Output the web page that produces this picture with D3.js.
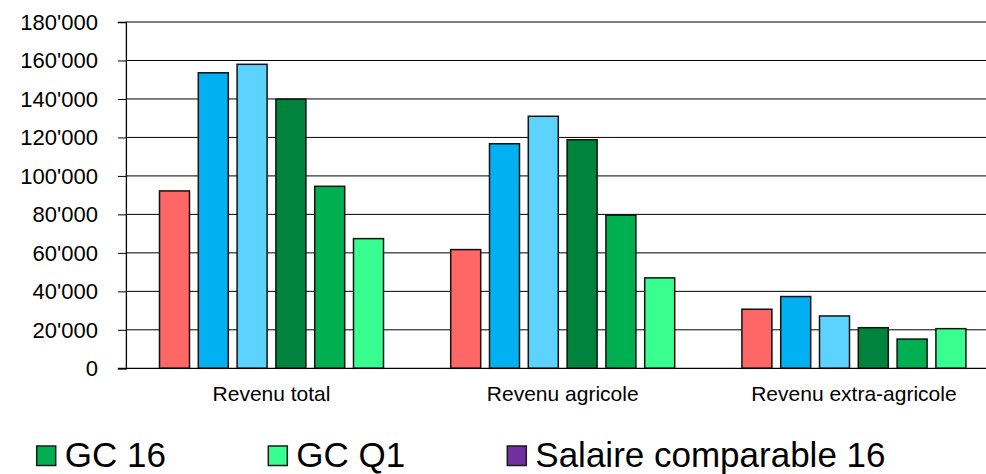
<!DOCTYPE html>
<html>
<head>
<meta charset="utf-8">
<script src="https://cdn.jsdelivr.net/npm/d3@7"></script>
<style>
  html, body { margin: 0; padding: 0; background: #fff; }
  svg { display: block; font-family: "Liberation Sans", Arial, sans-serif; }
</style>
</head>
<body>
<svg id="chart" width="986" height="474"></svg>
<script>
// Revenue groups on the category axis
const categories = ["Revenu total", "Revenu agricole", "Revenu extra-agricole"];

// One array per farm group (values in CHF)
const series1 = [92200, 61700, 30700];
const series2 = [153600, 116700, 37300];
const series3 = [158000, 131000, 27200];
const series4 = [139900, 118800, 21100];
const gc16    = [94600, 79600, 15200];
const gcQ1    = [67400, 47000, 20600];

const seriesValues = [series1, series2, series3, series4, gc16, gcQ1];
const seriesColors = ["#FF6666", "#00B0F0", "#5CD2FF", "#00843D", "#00B050", "#38FF90"];

// Y axis ticks
const yTicks = [0, 20000, 40000, 60000, 80000, 100000, 120000, 140000, 160000, 180000];

// Legend entries shown in the bottom row
const legendLabels = ["GC 16", "GC Q1", "Salaire comparable 16"];
const legendColors = ["#00B050", "#38FF90", "#7030A0"];

const svg = d3.select("#chart");

const plot = { left: 125.9, right: 999.5, top: 22, bottom: 368.3 };

const y = d3.scaleLinear().domain([0, 180000]).range([plot.bottom, plot.top]);
const x0 = d3.scaleBand().domain(categories).range([plot.left, plot.right]).padding(0);
const x1 = d3.scaleBand()
  .domain(d3.range(seriesValues.length))
  .range([33.6, x0.bandwidth() - 33.6])
  .paddingInner(0.2268)
  .paddingOuter(0);

const fmt = v => d3.format(",")(v).replace(/,/g, "'");

// Horizontal grid lines
svg.append("g")
  .selectAll("line")
  .data(yTicks.filter(t => t > 0))
  .join("line")
  .attr("x1", plot.left).attr("x2", plot.right)
  .attr("y1", d => y(d)).attr("y2", d => y(d))
  .attr("stroke", "#000").attr("stroke-width", 1);

// Bars
const groups = svg.append("g")
  .selectAll("g")
  .data(categories)
  .join("g")
  .attr("transform", c => `translate(${x0(c)},0)`);

groups.selectAll("rect")
  .data((c, ci) => seriesValues.map((vals, si) => ({ si, v: vals[ci] })))
  .join("rect")
  .attr("x", d => x1(d.si))
  .attr("width", x1.bandwidth())
  .attr("y", d => y(d.v))
  .attr("height", d => y(0) - y(d.v))
  .attr("fill", d => seriesColors[d.si])
  .attr("stroke", "#111")
  .attr("stroke-width", 1.5);

// Y axis
const yAxis = d3.axisLeft(y)
  .tickValues(yTicks)
  .tickFormat(fmt)
  .tickSize(8)
  .tickPadding(20);

const gy = svg.append("g")
  .attr("transform", `translate(${plot.left},0)`)
  .call(yAxis);
gy.select(".domain").attr("stroke", "#000").attr("stroke-width", 1.3);
gy.selectAll(".tick line").attr("stroke", "#000");
gy.selectAll(".tick text")
  .attr("fill", "#000")
  .style("font-size", "22px")
  .attr("dy", "0.34em");

// Category axis baseline
svg.append("line")
  .attr("x1", plot.left - 8).attr("x2", plot.right)
  .attr("y1", y(0)).attr("y2", y(0))
  .attr("stroke", "#000").attr("stroke-width", 1.3);

// Category labels
svg.append("g")
  .selectAll("text")
  .data(categories)
  .join("text")
  .attr("x", c => x0(c) + x0.bandwidth() / 2)
  .attr("y", 400.5)
  .attr("text-anchor", "middle")
  .style("font-size", "21px")
  .attr("fill", "#000")
  .text(c => c);

// Legend (bottom row)
const legendX = [36.7, 268.3, 507.3];
const legend = svg.append("g")
  .selectAll("g")
  .data(legendLabels)
  .join("g")
  .attr("transform", (d, i) => `translate(${legendX[i]},0)`);

legend.append("rect")
  .attr("x", 0).attr("y", 446)
  .attr("width", 19).attr("height", 19.5)
  .attr("fill", (d, i) => legendColors[i])
  .attr("stroke", "#1a1a1a").attr("stroke-width", 1.5);

legend.append("text")
  .attr("x", 28)
  .attr("y", 466.5)
  .style("font-size", "35px")
  .attr("fill", "#000")
  .text(d => d);
</script>
</body>
</html>
